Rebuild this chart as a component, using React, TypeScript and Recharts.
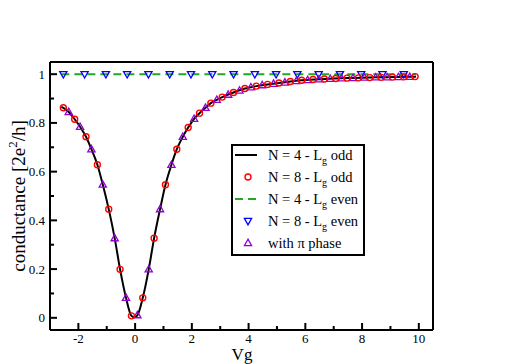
import React from 'react';
import { ComposedChart, Line, Scatter, XAxis, YAxis, Legend } from 'recharts';

// ---- data ----
const blackX = [-2.6, -2.53, -2.34, -2.13, -1.94, -1.73, -1.54, -1.33, -1.14, -0.93, -0.72, -0.53, -0.32, -0.13, -0.03, 0.08, 0.27, 0.48, 0.67, 0.88, 1.07, 1.28, 1.47, 1.68, 1.87, 2.08, 2.27, 2.48, 2.67, 2.88, 3.07, 3.47, 3.87, 4.27, 4.67, 5.07, 5.47, 6.0, 6.5, 7.0, 7.5, 8.0, 8.5, 9.0, 9.5, 9.9];
const blackY = [0.866, 0.862, 0.845, 0.815, 0.784, 0.743, 0.692, 0.628, 0.547, 0.446, 0.327, 0.199, 0.082, 0.008, 0.002, 0.010, 0.082, 0.199, 0.327, 0.446, 0.546, 0.628, 0.692, 0.743, 0.781, 0.817, 0.840, 0.862, 0.881, 0.895, 0.906, 0.925, 0.941, 0.951, 0.958, 0.964, 0.970, 0.976, 0.979, 0.982, 0.984, 0.985, 0.987, 0.988, 0.989, 0.990];

const redX = [-2.53, -2.13, -1.73, -1.33, -0.93, -0.53, -0.13, 0.27, 0.67, 1.07, 1.47, 1.87, 2.27, 2.67, 3.07, 3.47, 3.87, 4.27, 4.67, 5.07, 5.47, 5.87, 6.27, 6.67, 7.07, 7.47, 7.87, 8.27, 8.67, 9.07, 9.47, 9.87];
const redY = [0.862, 0.815, 0.743, 0.628, 0.446, 0.199, 0.008, 0.082, 0.327, 0.546, 0.692, 0.781, 0.840, 0.881, 0.906, 0.925, 0.941, 0.951, 0.958, 0.964, 0.970, 0.975, 0.978, 0.980, 0.982, 0.984, 0.985, 0.986, 0.987, 0.988, 0.989, 0.990];

const purpleX = [-2.34, -1.94, -1.54, -1.14, -0.72, -0.32, 0.08, 0.48, 0.88, 1.28, 1.68, 2.08, 2.48, 2.88, 3.28, 3.68, 4.08, 4.48, 4.88, 5.28, 5.68, 6.08, 6.48, 6.88, 7.28, 7.68, 8.08, 8.48, 8.88, 9.28, 9.68];
const purpleY = [0.845, 0.784, 0.692, 0.547, 0.327, 0.082, 0.011, 0.199, 0.446, 0.628, 0.743, 0.817, 0.862, 0.895, 0.916, 0.933, 0.946, 0.955, 0.961, 0.966, 0.972, 0.976, 0.979, 0.981, 0.983, 0.984, 0.986, 0.987, 0.987, 0.988, 0.989];

const blueX = [-2.53, -1.78, -1.03, -0.28, 0.47, 1.22, 1.97, 2.72, 3.47, 4.22, 4.97, 5.72, 6.47, 7.22, 7.97, 8.72, 9.47];
const blueY = [1, 1, 1, 1, 1, 1, 1, 1, 1, 1, 1, 1, 1, 1, 1, 1, 1];

const greenX = [-2.6, 9.9];
const greenY = [1, 1];

const xMajorTicks = [-2, 0, 2, 4, 6, 8, 10];
const xMinorTicks = [-1, 1, 3, 5, 7, 9];
const yMajorTicks = [0, 0.2, 0.4, 0.6, 0.8, 1];
const yMinorTicks = [0.1, 0.3, 0.5, 0.7, 0.9];

const legendLabels = [
  { pre: 'N = 4 - L', sub: 'g', post: ' odd', kind: 'solid' },
  { pre: 'N = 8 - L', sub: 'g', post: ' odd', kind: 'circle' },
  { pre: 'N = 4 - L', sub: 'g', post: ' even', kind: 'dash' },
  { pre: 'N = 8 - L', sub: 'g', post: ' even', kind: 'down' },
  { pre: 'with \u03c0 phase', sub: '', post: '', kind: 'up' },
];

const toPts = (xs: number[], ys: number[]) => xs.map((x, i) => ({ x, y: ys[i] }));

const FONT = '"Liberation Serif", "Times New Roman", serif';
const RED = '#ff0000';
const PURPLE = '#9400d3';
const BLUE = '#0000ff';
const GREEN = '#22a822';

const Circle = (p: any) => (
  <circle cx={p.cx} cy={p.cy} r={3} fill="none" stroke={RED} strokeWidth={1.4} />
);
const UpTri = (p: any) => (
  <polygon
    points={`${p.cx},${p.cy - 3.8} ${p.cx - 3.6},${p.cy + 2.6} ${p.cx + 3.6},${p.cy + 2.6}`}
    fill="none" stroke={PURPLE} strokeWidth={1.3}
  />
);
const DownTri = (p: any) => (
  <polygon
    points={`${p.cx - 3.6},${p.cy - 2.6} ${p.cx + 3.6},${p.cy - 2.6} ${p.cx},${p.cy + 3.8}`}
    fill="none" stroke={BLUE} strokeWidth={1.3}
  />
);

const XTick = (props: any) => {
  const { x, y, payload } = props;
  const major = xMajorTicks.includes(payload.value);
  return (
    <g>
      <line x1={x} y1={y} x2={x} y2={y - (major ? 7 : 4)} stroke="#000" strokeWidth={2} />
      {major && (
        <text x={x} y={y + 12.5} textAnchor="middle" fontSize={13} fontFamily={FONT} fill="#000">
          {payload.value}
        </text>
      )}
    </g>
  );
};

const YTick = (props: any) => {
  const { x, y, payload } = props;
  const major = yMajorTicks.includes(payload.value);
  return (
    <g>
      <line x1={x} y1={y} x2={x + (major ? 7 : 4)} y2={y} stroke="#000" strokeWidth={2} />
      {major && (
        <text x={x - 5} y={y + 4.5} textAnchor="end" fontSize={13} fontFamily={FONT} fill="#000">
          {payload.value}
        </text>
      )}
    </g>
  );
};

const YTickRight = (props: any) => {
  const { x, y, payload } = props;
  const major = yMajorTicks.includes(payload.value);
  return <line x1={x} y1={y} x2={x - (major ? 7 : 4)} y2={y} stroke="#000" strokeWidth={2} />;
};

const LegendBox = () => (
  <svg width={134} height={112} style={{ display: 'block' }}>
    <rect x={1} y={1} width={132} height={110} fill="#fff" stroke="#000" strokeWidth={2} />
    {legendLabels.map((it, i) => {
      const cy = 11 + 22 * i;
      const cx = 17;
      let sym: any = null;
      if (it.kind === 'solid') sym = <line x1={4} y1={cy} x2={26} y2={cy} stroke="#000" strokeWidth={2} />;
      if (it.kind === 'dash')
        sym = <line x1={4} y1={cy} x2={26} y2={cy} stroke={GREEN} strokeWidth={2} strokeDasharray="8 5" />;
      if (it.kind === 'circle') sym = <Circle cx={cx} cy={cy} />;
      if (it.kind === 'down') sym = <DownTri cx={cx} cy={cy} />;
      if (it.kind === 'up') sym = <UpTri cx={cx} cy={cy} />;
      return (
        <g key={i}>
          {sym}
          <text x={37} y={cy + 5} fontSize={14.5} fontFamily={FONT} fill="#000">
            {it.pre}
            {it.sub && (
              <tspan dy={4} fontSize={10}>
                {it.sub}
              </tspan>
            )}
            {it.post && (
              <tspan dy={it.sub ? -4 : 0} fontSize={14.5}>
                {it.post}
              </tspan>
            )}
          </text>
        </g>
      );
    })}
  </svg>
);

const YLabel = () => (
  <text x={25} y={196} transform="rotate(-90 25 196)" textAnchor="middle" fontSize={19} fontFamily={FONT} fill="#000">
    conductance [2e
    <tspan dy={-8} fontSize={13}>2</tspan>
    <tspan dy={8} fontSize={19}>/h]</tspan>
  </text>
);

const XLabel = () => (
  <text x={242} y={359.5} textAnchor="middle" fontSize={17} fontFamily={FONT} fill="#000">
    Vg
  </text>
);

export default function App() {
  const axisLine = { stroke: '#000', strokeWidth: 2 };
  const yTicks = [...yMajorTicks, ...yMinorTicks].sort((a, b) => a - b);
  return (
    <div style={{ position: 'absolute', left: 0, top: 0 }}>
      <ComposedChart width={518} height={364} margin={{ top: 61, right: 84, bottom: 33, left: 49 }}>
        <XAxis
          dataKey="x"
          type="number"
          domain={[-3, 10.5]}
          ticks={[...xMajorTicks, ...xMinorTicks].sort((a, b) => a - b)}
          interval={0}
          height={1}
          tickSize={0}
          tickMargin={0}
          tickLine={false}
          axisLine={axisLine}
          tick={<XTick />}
          label={{ content: () => <XLabel /> }}
          allowDataOverflow
        />
        <XAxis
          xAxisId="top"
          orientation="top"
          type="number"
          domain={[-3, 10.5]}
          height={1}
          tick={false}
          tickLine={false}
          axisLine={axisLine}
        />
        <YAxis
          type="number"
          domain={[-0.05, 1.05]}
          ticks={yTicks}
          interval={0}
          width={1}
          tickSize={0}
          tickMargin={0}
          tickLine={false}
          axisLine={axisLine}
          tick={<YTick />}
          label={{ content: () => <YLabel /> }}
          allowDataOverflow
        />
        <YAxis
          yAxisId="right"
          orientation="right"
          type="number"
          domain={[-0.05, 1.05]}
          ticks={yTicks}
          interval={0}
          width={1}
          tickSize={0}
          tickMargin={0}
          tickLine={false}
          axisLine={axisLine}
          tick={<YTickRight />}
        />
        <Line
          data={toPts(greenX, greenY)}
          dataKey="y"
          type="linear"
          stroke={GREEN}
          strokeWidth={2}
          strokeDasharray="8 5"
          dot={false}
          activeDot={false}
          isAnimationActive={false}
          name="N = 4 - Lg even"
        />
        <Line
          data={toPts(blackX, blackY)}
          dataKey="y"
          type="monotone"
          stroke="#000"
          strokeWidth={2}
          dot={false}
          activeDot={false}
          isAnimationActive={false}
          name="N = 4 - Lg odd"
        />
        <Scatter data={toPts(blueX, blueY)} dataKey="y" shape={DownTri} isAnimationActive={false} name="N = 8 - Lg even" />
        <Scatter data={toPts(purpleX, purpleY)} dataKey="y" shape={UpTri} isAnimationActive={false} name="with pi phase" />
        <Scatter data={toPts(redX, redY)} dataKey="y" shape={Circle} isAnimationActive={false} name="N = 8 - Lg odd" />
        <Legend
          layout="vertical"
          align="center"
          verticalAlign="middle"
          content={() => <LegendBox />}
          wrapperStyle={{ left: 231, top: 144, width: 134, height: 112 }}
        />
      </ComposedChart>
    </div>
  );
}
